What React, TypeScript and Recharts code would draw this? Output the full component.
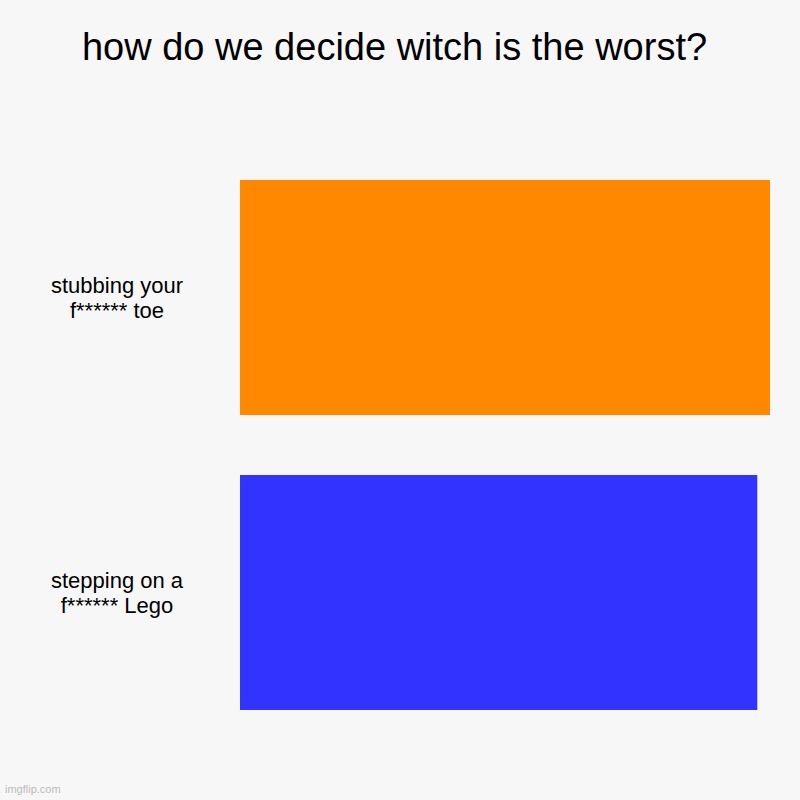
import { BarChart, Bar, XAxis, YAxis, Cell } from 'recharts';

const categories = ['stubbing your f****** toe', 'stepping on a f****** Lego'];
const labelLines = [
  ['stubbing your', 'f****** toe'],
  ['stepping on a', 'f****** Lego'],
];
const values = [100, 97.6];
const colors = ['#ff8800', '#3333ff'];

const chartData = categories.map((name, i) => ({ name, value: values[i] }));

const FONT = '"Liberation Sans", Arial, sans-serif';

function CategoryTick(props: any) {
  const { x, y, payload } = props;
  const idx = categories.indexOf(payload.value);
  const lines = labelLines[idx] || [payload.value];
  return (
    <text x={117} y={y} textAnchor="middle" fontSize={22} fill="#000" fontFamily={FONT}>
      {lines.map((line, i) => (
        <tspan key={i} x={117} y={y - 5 + i * 25}>
          {line}
        </tspan>
      ))}
    </text>
  );
}

export default function App() {
  return (
    <div
      style={{
        position: 'fixed',
        top: 0,
        left: 0,
        width: 800,
        height: 800,
        background: '#f7f7f7',
        fontFamily: FONT,
      }}
    >
      <div
        style={{
          position: 'absolute',
          top: 28,
          left: 0,
          width: 789,
          textAlign: 'center',
          fontSize: 38,
          lineHeight: 1,
          color: '#000',
        }}
      >
        how do we decide witch is the worst?
      </div>
      <BarChart
        width={800}
        height={800}
        data={chartData}
        layout="vertical"
        margin={{ top: 150, right: 30, bottom: 60, left: 0 }}
        barCategoryGap={30}
      >
        <XAxis type="number" domain={[0, 100]} hide />
        <YAxis
          type="category"
          dataKey="name"
          width={240}
          axisLine={false}
          tickLine={false}
          tick={<CategoryTick />}
        />
        <Bar dataKey="value" isAnimationActive={false}>
          {chartData.map((d, i) => (
            <Cell key={d.name} fill={colors[i]} />
          ))}
        </Bar>
      </BarChart>
      <div
        style={{
          position: 'absolute',
          left: 5,
          top: 784,
          fontSize: 11,
          lineHeight: 1,
          color: '#bbb',
        }}
      >
        imgflip.com
      </div>
    </div>
  );
}
